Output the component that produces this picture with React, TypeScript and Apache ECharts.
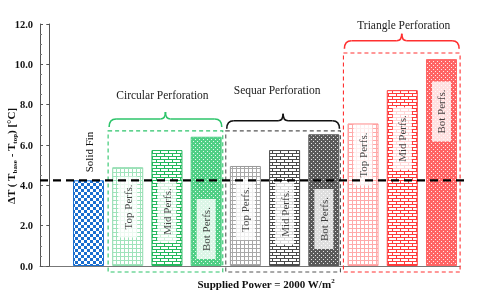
import React, { useEffect, useRef } from 'react';
import * as echarts from 'echarts';

// ---------------- data ----------------
const categories = [
  'Solid Fin',
  'Circular Top', 'Circular Mid', 'Circular Bot',
  'Sequar Top', 'Sequar Mid', 'Sequar Bot',
  'Triangle Top', 'Triangle Mid', 'Triangle Bot',
];
const barPositions = [1, 2, 3, 4, 5, 6, 7, 8, 9, 10];
const deltaT = [4.25, 4.9, 5.75, 6.41, 4.96, 5.75, 6.53, 7.07, 8.72, 10.26];
const barTags = [
  'Solid Fin',
  'Top Perfs.', 'Mid Perfs.', 'Bot Perfs.',
  'Top Perfs.', 'Mid Perfs.', 'Bot Perfs.',
  'Top Perfs.', 'Mid Perfs.', 'Bot Perfs.',
];
const groupNames = ['Circular Perforation', 'Sequar Perforation', 'Triangle Perforation'];
const groupFirst = [2, 5, 8];
const groupLast = [4, 7, 10];
const yMin = 0;
const yMax = 12;
const yStep = 2;
const xAxisTitle = 'Supplied Power = 2000 W/m';
const xAxisTitleSup = '2';

// ---------------- layout / style ----------------
const SERIF = '"Liberation Serif", "Times New Roman", serif';
const X_MIN = -0.2366;
const X_MAX = 10.472;
const BAR_W = 31;
// where the white tag boxes sit inside each bar (°C units, visual layout)
const TAG_CENTER = [0, 2.93, 2.7, 1.83, 2.8, 2.6, 2.33, 5.5, 6.32, 7.66];
const GROUP_LAYOUT = [
  { boxTop: 6.7, brace: 7.29, title: 8.48, titleDx: -3, color: '#2cc46a', boxColor: '#2cc46a', rightGap: 3 },
  { boxTop: 6.7, brace: 7.2, title: 8.73, titleDx: -6, color: '#111111', boxColor: '#555555', rightGap: 3 },
  { boxTop: 10.56, brace: 11.17, title: 11.95, titleDx: 2, color: '#ff3030', boxColor: '#ff3030', rightGap: 1 },
];
const BOX_BOTTOM = -0.3;

function tile(w: number, h: number, fn: (c: CanvasRenderingContext2D) => void) {
  const c = document.createElement('canvas');
  c.width = w;
  c.height = h;
  const ctx = c.getContext('2d')!;
  fn(ctx);
  return c;
}
const checker = (col: string) =>
  tile(6, 6, (ctx) => {
    ctx.fillStyle = '#fff'; ctx.fillRect(0, 0, 6, 6);
    ctx.fillStyle = col; ctx.fillRect(0, 0, 3, 3); ctx.fillRect(3, 3, 3, 3);
  });
const grid = (col: string) =>
  tile(4, 4, (ctx) => {
    ctx.fillStyle = '#fff'; ctx.fillRect(0, 0, 4, 4);
    ctx.fillStyle = col; ctx.fillRect(0, 0, 4, 1); ctx.fillRect(0, 0, 1, 4);
  });
const brick = (col: string) =>
  tile(8, 6, (ctx) => {
    ctx.fillStyle = '#fff'; ctx.fillRect(0, 0, 8, 6);
    ctx.fillStyle = col;
    ctx.fillRect(0, 0, 8, 1); ctx.fillRect(0, 3, 8, 1);
    ctx.fillRect(0, 0, 1, 3); ctx.fillRect(4, 3, 1, 3);
  });
const dots = (col: string) =>
  tile(4, 4, (ctx) => {
    ctx.fillStyle = col; ctx.fillRect(0, 0, 4, 4);
    ctx.fillStyle = 'rgba(255,255,255,0.85)'; ctx.fillRect(1, 1, 1, 1); ctx.fillRect(3, 3, 1, 1);
  });

export default function App() {
  const ref = useRef<HTMLDivElement>(null);
  useEffect(() => {
    const chart = echarts.init(ref.current!, null, { renderer: 'svg' });
    const styles = [
      { p: checker('#1a6fd0'), b: '#1a6fd0' },
      { p: grid('#9fe3bb'), b: '#8fdcae' },
      { p: brick('#23b85c'), b: '#23b85c' },
      { p: dots('#4fcf85'), b: '#4fcf85' },
      { p: grid('#a8a8a8'), b: '#999999' },
      { p: brick('#4a4a4a'), b: '#4a4a4a' },
      { p: dots('#5a5a5a'), b: '#5a5a5a' },
      { p: grid('#ffaaaa'), b: '#ff9999' },
      { p: brick('#ff3b3b'), b: '#ff3b3b' },
      { p: dots('#ff6464'), b: '#ff6464' },
    ];
    const barData = deltaT.map((v, i) => ({
      name: categories[i],
      value: [barPositions[i], v],
      itemStyle: {
        color: { image: styles[i].p, repeat: 'repeat' },
        borderColor: styles[i].b,
        borderWidth: 1,
      },
      label:
        i === 0
          ? {
              show: true, position: 'top', rotate: 90, align: 'left', verticalAlign: 'middle',
              distance: 8, formatter: barTags[0], fontFamily: SERIF, fontSize: 11, color: '#111',
            }
          : { show: false },
    }));
    const tagData = barPositions.slice(1).map((x, k) => ({
      name: barTags[k + 1],
      value: [x, TAG_CENTER[k + 1]],
    }));

    const tickAxisCommon = {
      type: 'value', min: yMin, max: yMax, interval: yStep, position: 'left',
      splitLine: { show: false },
      axisLine: { show: true, lineStyle: { color: '#555', width: 1 } },
    };

    chart.setOption({
      animation: false,
      grid: { left: 40, right: 20, top: 24, bottom: 28, containLabel: false },
      xAxis: {
        type: 'value', min: X_MIN, max: X_MAX,
        axisLine: { show: true, onZero: false, lineStyle: { color: '#777', width: 1 } },
        axisTick: { show: false }, axisLabel: { show: false }, splitLine: { show: false },
      },
      yAxis: [
        {
          ...tickAxisCommon,
          axisTick: { show: true, inside: false, length: 3, lineStyle: { color: '#555' } },
          axisLabel: {
            show: true, margin: 7, fontFamily: SERIF, fontWeight: 'bold', fontSize: 10.5, color: '#111',
            formatter: (v: number) => v.toFixed(1),
          },
        },
        {
          ...tickAxisCommon,
          axisTick: { show: true, inside: true, length: 3, lineStyle: { color: '#555' } },
          minorTick: { show: true, splitNumber: 4, length: 2, lineStyle: { color: '#777' } },
          axisLabel: { show: false },
        },
      ],
      series: [
        {
          type: 'bar', barWidth: BAR_W, data: barData, z: 2,
        },
        {
          type: 'scatter', symbolSize: 1, data: tagData, z: 5,
          itemStyle: { color: 'rgba(0,0,0,0)' },
          label: {
            show: true, position: 'inside', rotate: 90, formatter: '{b}',
            fontFamily: SERIF, fontSize: 11, color: '#111',
            backgroundColor: '#ffffff', padding: [4, 8],
          },
        },
      ],
    });

    const px = (x: number, y: number) => chart.convertToPixel({ gridIndex: 0 } as any, [x, y]) as number[];
    const elements: any[] = [];
    groupNames.forEach((name, g) => {
      const L = GROUP_LAYOUT[g];
      const left = px(groupFirst[g] - 0.5, 0)[0];
      const right = px(groupLast[g] + 0.5, 0)[0] - L.rightGap;
      const top = px(0, L.boxTop)[1];
      const bottom = px(0, BOX_BOTTOM)[1];
      elements.push({
        type: 'rect', z: 10,
        shape: { x: left, y: top, width: right - left, height: bottom - top },
        style: { fill: 'none', stroke: L.boxColor, lineWidth: 1.1, lineDash: [4, 3] },
      });
      const yl = px(0, L.brace)[1];
      const x1 = left + 1;
      const x2 = right - 1;
      const xc = (x1 + x2) / 2;
      const r = 7;
      const r2 = 5;
      const yEnd = yl + 8;
      const yBump = yl - 7;
      const st = { stroke: L.color, lineWidth: 1.6, fill: 'none' };
      elements.push(
        { type: 'bezierCurve', z: 10, shape: { x1, y1: yEnd, x2: x1 + r, y2: yl, cpx1: x1, cpy1: yl }, style: st },
        { type: 'line', z: 10, shape: { x1: x1 + r, y1: yl, x2: xc - r2, y2: yl }, style: st },
        { type: 'bezierCurve', z: 10, shape: { x1: xc - r2, y1: yl, x2: xc, y2: yBump, cpx1: xc, cpy1: yl }, style: st },
        { type: 'bezierCurve', z: 10, shape: { x1: xc, y1: yBump, x2: xc + r2, y2: yl, cpx1: xc, cpy1: yl }, style: st },
        { type: 'line', z: 10, shape: { x1: xc + r2, y1: yl, x2: x2 - r, y2: yl }, style: st },
        { type: 'bezierCurve', z: 10, shape: { x1: x2 - r, y1: yl, x2, y2: yEnd, cpx1: x2, cpy1: yl }, style: st },
      );
      const ty = px(0, L.title)[1];
      elements.push({
        type: 'text', z: 10, x: xc + L.titleDx, y: ty,
        style: {
          text: name, fontFamily: SERIF, fontSize: 11.5, fill: '#222',
          align: 'center', verticalAlign: 'middle',
        },
      });
    });
    const yr = px(0, deltaT[0])[1];
    elements.push({
      type: 'line', z: 20,
      shape: { x1: 40, y1: yr, x2: 469, y2: yr },
      style: { stroke: '#000', lineWidth: 2.3, lineDash: [8, 5] },
    });
    elements.push({
      type: 'text', z: 10, x: 266, y: 284,
      style: {
        text: `{n|${xAxisTitle}}{s|${xAxisTitleSup}}`,
        align: 'center', verticalAlign: 'middle',
        rich: {
          n: { fontFamily: SERIF, fontWeight: 'bold', fontSize: 11, fill: '#111', lineHeight: 14 },
          s: { fontFamily: SERIF, fontWeight: 'bold', fontSize: 7, fill: '#111', verticalAlign: 'top', lineHeight: 14 },
        },
      },
    });
    elements.push({
      type: 'text', z: 10, x: 11, y: 156, rotation: Math.PI / 2,
      style: {
        text: '{n|ΔT ( T}{s|base}{n| - T}{s|top}{n|) [°C]}',
        align: 'center', verticalAlign: 'middle',
        rich: {
          n: { fontFamily: SERIF, fontWeight: 'bold', fontSize: 11, fill: '#111', lineHeight: 14 },
          s: { fontFamily: SERIF, fontWeight: 'bold', fontSize: 7, fill: '#111', verticalAlign: 'bottom', lineHeight: 14 },
        },
      },
    });
    chart.setOption({ graphic: elements });
    return () => chart.dispose();
  }, []);
  return <div ref={ref} style={{ position: 'fixed', left: 0, top: 0, width: 480, height: 294 }} />;
}
